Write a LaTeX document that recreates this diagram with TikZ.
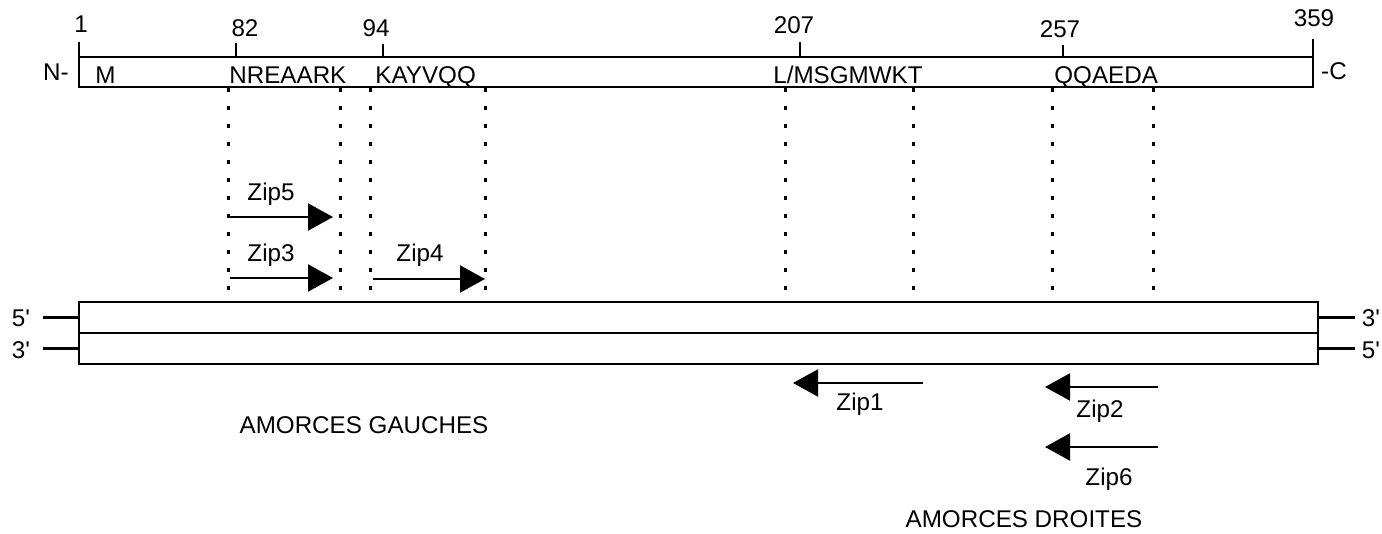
\documentclass[tikz,border=0pt]{standalone}
\usepackage{fontspec}
\setmainfont{Liberation Sans}
\usetikzlibrary{arrows.meta}

\tikzset{
    lbl/.style={font=\fontsize{12.1}{14}\selectfont, inner sep=0pt, anchor=base},
    seqlbl/.style={lbl, anchor=base west},
    bar/.style={draw, line width=1.2pt, inner sep=0pt},
    tickmark/.style={line width=1.2pt},
    guide/.style={line width=1.5pt, dash pattern=on 2pt off 7pt},
    primer/.style={line width=1.1pt, -{Triangle[length=12.5pt, width=13.5pt]}}
}

\begin{document}
\begin{tikzpicture}[x=0.5pt, y=-0.5pt]
    \useasboundingbox (0,0) rectangle (1382,534);
    % protein with residue numbers
    \node[bar, minimum width=617pt, minimum height=15pt] (prot) at (696,72) {};
    \node[lbl] (n1) at (81,33) {1};
    \node[lbl] (n82) at (245,37) {82};
    \node[lbl] (n94) at (376,37) {94};
    \node[lbl] (n207) at (794,34) {207};
    \node[lbl] (n257) at (1060,38) {257};
    \node[lbl] (n359) at (1314,27) {359};
    \coordinate (t1) at (79,42);
    \coordinate (t82) at (236,43);
    \coordinate (t94) at (383,44);
    \coordinate (t207) at (800,42);
    \coordinate (t257) at (1063,45);
    \coordinate (t359) at (1313,39);
    \foreach \t in {t1,t82,t94,t207,t257,t359}
        \draw[tickmark] (\t) -- (\t |- prot.north);
    \node[lbl] (nterm) at (56,81) {N-};
    \node[lbl] (cterm) at (1334,80) {-C};
    \node[seqlbl] (sM) at (95,84) {M};
    \node[seqlbl] (s82) at (229,84) {NREAARK};
    \node[seqlbl] (s94) at (375,84) {KAYVQQ};
    \node[seqlbl] (s207) at (773,84) {L/MSGMWKT};
    \node[seqlbl] (s257) at (1054,84) {QQAEDA};
    % DNA strands
    \node[bar, minimum width=619.5pt, minimum height=15.5pt] (fwd) at (698.5,317.5) {};
    \node[bar, minimum width=619.5pt, minimum height=15.5pt] (rev) at (698.5,348.5) {};
    \draw[tickmark] (fwd.west) -- ++(-35,0);
    \draw[tickmark] (rev.west) -- ++(-35,0);
    \draw[tickmark] (fwd.east) -- ++(36,0);
    \draw[tickmark] (rev.east) -- ++(36,0);
    \node[lbl] (f5) at (21,327) {5\textquotesingle};
    \node[lbl] (r3) at (21,358) {3\textquotesingle};
    \node[lbl] (f3) at (1371,327) {3\textquotesingle};
    \node[lbl] (r5) at (1371,358) {5\textquotesingle};
    % dotted guides from the motifs down to the DNA
    \foreach \x in {228,340,370,485,785,913,1052,1153} {
        \coordinate (g) at (\x,0);
        \draw[guide] (g |- prot.south) -- (g |- fwd.north);
    }
    % left primers
    \coordinate (z5a) at (230,217);
    \coordinate (z5b) at (333,217);
    \coordinate (z3a) at (230,278);
    \coordinate (z3b) at (333,278);
    \coordinate (z4a) at (373,279);
    \coordinate (z4b) at (485,279);
    \draw[primer] (z5a) -- (z5b);
    \draw[primer] (z3a) -- (z3b);
    \draw[primer] (z4a) -- (z4b);
    \node[lbl] (zip5) at (271,201) {Zip5};
    \node[lbl] (zip3) at (271,262) {Zip3};
    \node[lbl] (zip4) at (420,262) {Zip4};
    \node[lbl] (left) at (364,433) {AMORCES GAUCHES};
    % right primers
    \coordinate (z1a) at (923,383);
    \coordinate (z1b) at (793,383);
    \coordinate (z2a) at (1158,387);
    \coordinate (z2b) at (1045,387);
    \coordinate (z6a) at (1158,447);
    \coordinate (z6b) at (1045,447);
    \draw[primer] (z1a) -- (z1b);
    \draw[primer] (z2a) -- (z2b);
    \draw[primer] (z6a) -- (z6b);
    \node[lbl] (zip1) at (860,410) {Zip1};
    \node[lbl] (zip2) at (1100,417) {Zip2};
    \node[lbl] (zip6) at (1109,485) {Zip6};
    \node[lbl] (right) at (1024,527) {AMORCES DROITES};
\end{tikzpicture}
\end{document}
